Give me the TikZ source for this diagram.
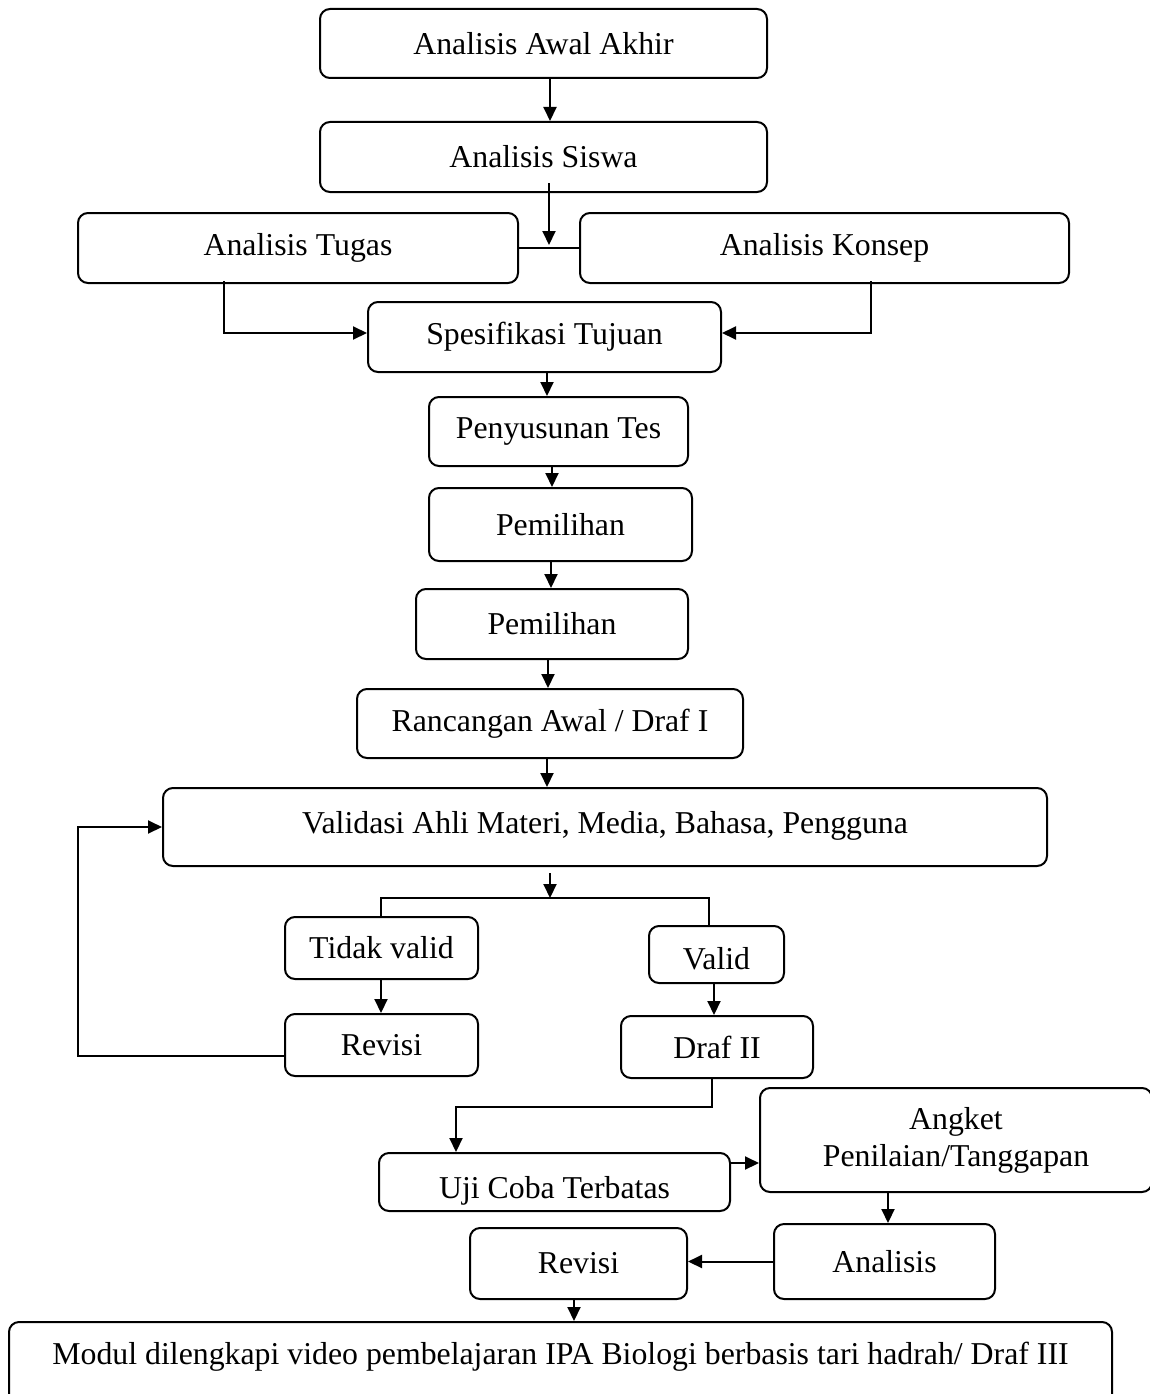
\documentclass[tikz,border=0pt]{standalone}
\usepackage{fontspec}
\setmainfont{Liberation Serif}
\usetikzlibrary{arrows.meta}
\begin{document}
\begin{tikzpicture}[x=1pt,y=-1pt,
  box/.style={draw, rounded corners=10pt, line width=2pt, inner sep=0pt, align=center, font=\fontsize{31.8}{37}\selectfont},
  arr/.style={line width=2pt, -{Triangle[length=14pt,width=13pt]}},
  ln/.style={line width=2pt}]
\fill[white] (0,0) rectangle (1150,1394);
\useasboundingbox (0,0) rectangle (1150,1394);
% nodes
\node[box, minimum width=447, minimum height=69] (aaa) at (543.5,43.5) {Analisis Awal Akhir};
\node[box, minimum width=447, minimum height=70] (siswa) at (543.5,157) {Analisis Siswa};
\node[box, minimum width=440, minimum height=70] (tugas) at (298,248) {Analisis Tugas};
\node[box, minimum width=489, minimum height=70] (konsep) at (824.5,248) {Analisis Konsep};
\node[box, minimum width=353, minimum height=70] (spes) at (544.5,337) {Spesifikasi Tujuan};
\node[box, minimum width=259, minimum height=69] (tes) at (558.5,431.5) {Penyusunan Tes};
\node[box, minimum width=263, minimum height=73] (pem1) at (560.5,524.5) {Pemilihan};
\node[box, minimum width=272, minimum height=70] (pem2) at (552,624) {Pemilihan};
\node[box, minimum width=386, minimum height=69] (ranc) at (550,723.5) {Rancangan Awal / Draf I};
\node[box, minimum width=884, minimum height=78] (val) at (605,827) {\raisebox{-6pt}[0pt][0pt]{Validasi Ahli Materi, Media, Bahasa, Pengguna}};
\node[box, minimum width=193, minimum height=62] (tidak) at (381.5,948) {Tidak valid};
\node[box, minimum width=135, minimum height=57] (valid) at (716.5,954.5) {\raisebox{-14.5pt}[0pt][0pt]{Valid}};
\node[box, minimum width=193, minimum height=62] (rev1) at (381.5,1045) {Revisi};
\node[box, minimum width=192, minimum height=62] (draf2) at (717,1047) {Draf II};
\node[box, minimum width=351, minimum height=58] (uji) at (554.5,1182) {\raisebox{-16pt}[0pt][0pt]{Uji Coba Terbatas}};
\node[box, minimum width=392, minimum height=104] (angket) at (956,1140) {Angket\\Penilaian/Tanggapan};
\node[box, minimum width=221, minimum height=75] (analisis) at (884.5,1261.5) {Analisis};
\node[box, minimum width=217, minimum height=71] (rev2) at (578.5,1263.5) {Revisi};
\node[box, minimum width=1103, minimum height=98] (modul) at (560.5,1371) {\raisebox{7pt}[0pt][0pt]{Modul dilengkapi video pembelajaran IPA Biologi berbasis tari hadrah/ Draf III}};
% helper coordinates
\coordinate (x550) at (550,0);
\coordinate (j1) at (549,245);
\coordinate (x224) at (224,0);
\coordinate (x871) at (871,0);
\coordinate (y333) at (0,333);
\coordinate (x547) at (547,0);
\coordinate (x552) at (552,0);
\coordinate (x551) at (551,0);
\coordinate (x548) at (548,0);
\coordinate (jn) at (550,898);
\coordinate (x381) at (381,0);
\coordinate (x709) at (709,0);
\coordinate (lx) at (78,827);
\coordinate (x714) at (714,0);
\coordinate (b1) at (712,1107);
\coordinate (x456) at (456,0);
\coordinate (y1163) at (0,1163);
\coordinate (x888) at (888,0);
\coordinate (x574) at (574,0);
% connectors
\draw[arr] (aaa.south -| x550) -- (siswa.north -| x550);
\draw[arr] (siswa.south -| j1) ++(0,-10) -- (j1);
\draw[ln] (tugas.east) -- (konsep.west);
\draw[arr] (tugas.south -| x224) ++(0,-3) |- (spes.west |- y333);
\draw[arr] (konsep.south -| x871) ++(0,-3) |- (spes.east |- y333);
\draw[arr] (spes.south -| x547) -- (tes.north -| x547);
\draw[arr] (tes.south -| x552) -- (pem1.north -| x552);
\draw[arr] (pem1.south -| x551) -- (pem2.north -| x551);
\draw[arr] (pem2.south -| x548) -- (ranc.north -| x548);
\draw[arr] (ranc.south -| x547) -- (val.north -| x547);
\draw[arr] (val.south -| jn) ++(0,6) -- (jn);
\draw[ln] (tidak.north -| x381) |- (x709 |- jn) -- (valid.north -| x709);
\draw[arr] (tidak.south -| x381) -- (rev1.north -| x381);
\draw[arr] ([yshift=-11pt]rev1.west) -| (lx) -- (val.west);
\draw[arr] (valid.south -| x714) -- (draf2.north -| x714);
\draw[arr] (draf2.south -| b1) -- (b1) -| (uji.north -| x456);
\draw[arr] (uji.east |- y1163) -- (angket.west |- y1163);
\draw[arr] (angket.south -| x888) -- (analisis.north -| x888);
\draw[arr] (analisis.west) -- (analisis.west -| rev2.east);
\draw[arr] (rev2.south -| x574) -- (modul.north -| x574);
\end{tikzpicture}
\end{document}
